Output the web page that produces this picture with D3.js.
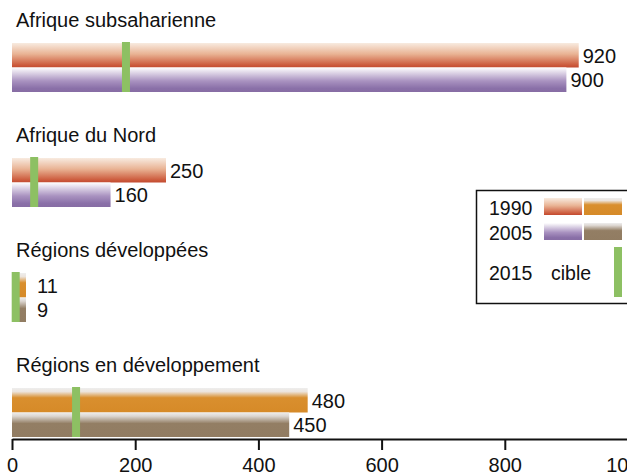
<!DOCTYPE html>
<html>
<head>
<meta charset="utf-8">
<script src="https://cdn.jsdelivr.net/npm/d3@7"></script>
<style>
  body { margin: 0; background: #fff; }
  text { font-family: "Liberation Sans", Arial, Helvetica, sans-serif; fill: #111; }
</style>
</head>
<body>
<div id="chart"></div>
<script>
// Data
var regions = ["Afrique subsaharienne", "Afrique du Nord", "Régions développées", "Régions en développement"];
var values1990 = [920, 250, 11, 480];
var values2005 = [900, 160, 9, 450];
var target2015 = [185, 36, 6, 104];
// which colour pair each region uses: "afr" = red/purple, "dev" = orange/brown
var colourSet = ["afr", "afr", "dev", "dev"];
var xTicks = [0, 200, 400, 600, 800, 1000];

var width = 627;
var height = 475;

var margin = { left: 12, axisY: 439 };

var svg = d3.select("#chart")
  .append("svg")
  .attr("width", width)
  .attr("height", height);

// Gradients for the bars (light on top, full colour at the bottom)
var defs = svg.append("defs");
function gradient(id, stops) {
  var g = defs.append("linearGradient")
    .attr("id", id)
    .attr("x1", 0).attr("y1", 0)
    .attr("x2", 0).attr("y2", 1);
  stops.forEach(function (s) {
    g.append("stop").attr("offset", s[0]).attr("stop-color", s[1]);
  });
}
gradient("g-red", [["0%", "#f8ebe0"], ["45%", "#e9b394"], ["90%", "#cc5a3c"], ["100%", "#c24a30"]]);
gradient("g-purple", [["0%", "#ffffff"], ["55%", "#a992c0"], ["85%", "#8a70a8"], ["100%", "#876da4"]]);
gradient("g-orange", [["0%", "#eeeeee"], ["15%", "#ece4dc"], ["40%", "#d98f2e"], ["100%", "#d68a28"]]);
gradient("g-brown", [["0%", "#eeeeee"], ["15%", "#dcd6d0"], ["45%", "#937e64"], ["100%", "#917c62"]]);

var fills = {
  afr: { y1990: "url(#g-red)", y2005: "url(#g-purple)" },
  dev: { y1990: "url(#g-orange)", y2005: "url(#g-brown)" }
};
var green = "#8dc063";

// Scales
var x = d3.scaleLinear()
  .domain([0, 1000])
  .range([margin.left, width + 1]);

var yGroup = d3.scaleBand()
  .domain(d3.range(regions.length))
  .range([27, 27 + 115 * regions.length]);

var yBar = d3.scaleBand()
  .domain(["1990", "2005"])
  .range([16, 65]);

// tiny bars get a minimum visible width
var barW = function (v) { return Math.max(x(v) - x(0), 14); };

var groups = svg.selectAll("g.region")
  .data(regions)
  .enter()
  .append("g")
  .attr("class", "region")
  .attr("transform", function (d, i) { return "translate(0," + yGroup(i) + ")"; });

// Region titles
groups.append("text")
  .attr("x", 16)
  .attr("y", 0)
  .attr("font-size", 20)
  .text(function (d) { return d; });

// 1990 and 2005 bars
groups.each(function (d, i) {
  var g = d3.select(this);
  var rows = [
    { key: "1990", v: values1990[i], fill: fills[colourSet[i]].y1990 },
    { key: "2005", v: values2005[i], fill: fills[colourSet[i]].y2005 }
  ];
  rows.forEach(function (r) {
    g.append("rect")
      .attr("x", x(0))
      .attr("y", yBar(r.key))
      .attr("width", barW(r.v))
      .attr("height", yBar.bandwidth())
      .attr("fill", r.fill);
    g.append("text")
      .attr("x", Math.max(x(0) + barW(r.v) + 4, x(0) + 25))
      .attr("y", yBar(r.key) + yBar.bandwidth() - 5)
      .attr("font-size", 20)
      .text(r.v);
  });
  // 2015 target marker
  g.append("rect")
    .attr("x", x(target2015[i]) - 4)
    .attr("y", yBar("1990") - 1)
    .attr("width", 8)
    .attr("height", yBar("2005") + yBar.bandwidth() - yBar("1990") + 1)
    .attr("fill", green);
});

// X axis
var xAxis = d3.axisBottom(x)
  .tickValues(xTicks)
  .tickFormat(d3.format("d"))
  .tickSize(11)
  .tickSizeOuter(0);

var axisG = svg.append("g")
  .attr("class", "xAxis")
  .attr("transform", "translate(0," + margin.axisY + ")")
  .call(xAxis);

axisG.select(".domain").attr("stroke", "#111").attr("stroke-width", 2);
axisG.selectAll(".tick line").attr("stroke", "#111").attr("stroke-width", 2);
axisG.selectAll(".tick text")
  .attr("y", 19)
  .attr("font-size", 20)
  .attr("font-family", "Liberation Sans, Arial, sans-serif")
  .attr("fill", "#111");

// Legend
var legend = svg.append("g").attr("class", "legend");
legend.append("rect")
  .attr("x", 476.5)
  .attr("y", 190.5)
  .attr("width", 170)
  .attr("height", 113)
  .attr("fill", "#fff")
  .attr("stroke", "#111")
  .attr("stroke-width", 1.5);

var legendRows = [
  { label: "1990", y: 198, fills: [fills.afr.y1990, fills.dev.y1990] },
  { label: "2005", y: 223, fills: [fills.afr.y2005, fills.dev.y2005] }
];
legendRows.forEach(function (r) {
  legend.append("text")
    .attr("x", 489)
    .attr("y", r.y + 17)
    .attr("font-size", 19.5)
    .text(r.label);
  r.fills.forEach(function (f, j) {
    legend.append("rect")
      .attr("x", 544 + j * 40)
      .attr("y", r.y)
      .attr("width", 38)
      .attr("height", 17)
      .attr("fill", f);
  });
});
legend.append("text")
  .attr("x", 489)
  .attr("y", 280)
  .attr("font-size", 19.5)
  .text("2015");
legend.append("text")
  .attr("x", 551)
  .attr("y", 280)
  .attr("font-size", 19.5)
  .text("cible");
legend.append("rect")
  .attr("x", 614)
  .attr("y", 247)
  .attr("width", 8)
  .attr("height", 50)
  .attr("fill", green);
</script>
</body>
</html>
